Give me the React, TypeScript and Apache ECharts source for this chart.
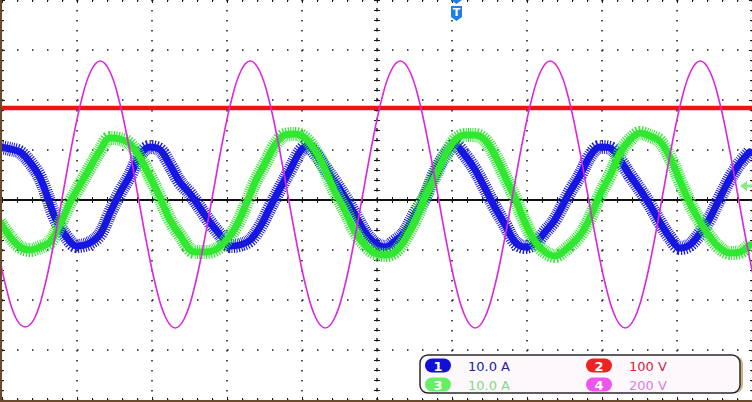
import React, { useEffect, useRef } from "react";
import * as echarts from "echarts";

// Time axis in ms (10 ms/div), screen centre = 0 ms. Values in divisions.
const ch1Time = [-50.3, -48.9, -47.6, -46.3, -44.9, -42.9, -41.6, -40.0, -38.3, -36.9, -35.6, -34.3, -32.9, -31.6, -30.3, -28.9, -27.6, -26.3, -24.9, -22.3, -20.9, -19.6, -18.3, -16.9, -15.6, -14.3, -12.9, -11.6, -10.3, -9.3, -8.3, -6.9, -5.6, -4.3, -2.9, -1.6, -0.3, 1.1, 2.4, 3.7, 5.1, 6.4, 7.7, 9.1, 10.4, 11.7, 13.1, 14.4, 15.7, 17.1, 18.4, 19.7, 21.1, 22.4, 23.7, 25.7, 27.1, 28.4, 29.7, 31.1, 32.4, 33.7, 35.1, 36.4, 37.7, 39.1, 40.4, 41.7, 43.1, 44.4, 45.7, 47.1, 48.4, 49.7];
const ch1Div = [1.06, 1.02, 0.96, 0.76, 0.44, -0.36, -0.7, -0.92, -0.86, -0.68, -0.26, 0.14, 0.5, 0.9, 1.06, 1.0, 0.7, 0.36, 0.12, -0.44, -0.7, -0.92, -0.9, -0.8, -0.54, -0.16, 0.24, 0.6, 0.96, 1.08, 0.94, 0.64, 0.36, 0.06, -0.3, -0.64, -0.86, -0.94, -0.82, -0.64, -0.26, 0.06, 0.54, 0.9, 1.1, 0.9, 0.6, 0.24, -0.14, -0.5, -0.84, -0.94, -0.86, -0.64, -0.4, 0.16, 0.5, 0.88, 1.06, 1.04, 0.8, 0.5, 0.2, -0.1, -0.44, -0.76, -0.96, -0.9, -0.66, -0.36, 0.04, 0.44, 0.74, 0.96];

const ch3Time = [-50.3, -48.9, -47.6, -46.3, -44.9, -43.6, -42.3, -40.9, -39.6, -38.3, -36.9, -35.6, -34.3, -32.9, -31.6, -30.3, -28.9, -27.6, -26.3, -24.3, -22.9, -21.6, -20.3, -18.9, -17.6, -16.3, -14.9, -13.6, -12.3, -10.9, -9.6, -8.3, -6.9, -5.6, -4.3, -2.9, -1.6, -0.3, 1.1, 2.4, 3.7, 5.1, 6.4, 7.7, 9.1, 10.4, 11.7, 13.1, 14.4, 15.7, 17.1, 18.4, 19.7, 21.1, 22.4, 23.7, 25.1, 27.1, 28.4, 29.7, 31.1, 32.4, 33.7, 35.1, 36.4, 37.7, 39.1, 40.4, 41.7, 43.1, 44.4, 45.7, 47.1, 48.4, 49.7];
const ch3Div = [-0.44, -0.74, -0.94, -1.0, -0.94, -0.84, -0.5, -0.04, 0.3, 0.64, 1.0, 1.24, 1.22, 1.12, 0.84, 0.48, 0.04, -0.4, -0.7, -1.04, -1.04, -1.0, -0.84, -0.56, -0.14, 0.34, 0.74, 1.1, 1.3, 1.32, 1.24, 1.0, 0.6, 0.16, -0.2, -0.64, -0.9, -1.06, -1.1, -1.04, -0.8, -0.4, 0.06, 0.46, 0.9, 1.2, 1.3, 1.3, 1.2, 0.9, 0.46, 0.04, -0.44, -0.84, -1.04, -1.12, -1.0, -0.7, -0.36, 0.1, 0.5, 0.94, 1.2, 1.34, 1.28, 1.18, 0.84, 0.38, -0.06, -0.44, -0.74, -0.96, -1.06, -1.04, -0.9];

const ch2Time = [-51, -40, -30, -20, -10, 0, 10, 20, 30, 40, 51];
const ch2Div = [1.84, 1.84, 1.84, 1.84, 1.84, 1.84, 1.84, 1.84, 1.84, 1.84, 1.84];

const ch4Time = [-51.9, -50.65, -49.4, -48.15, -46.9, -45.65, -44.4, -43.15, -41.9, -40.65, -39.4, -38.15, -36.9, -35.65, -34.4, -33.15, -31.9, -30.65, -29.4, -28.15, -26.9, -25.65, -24.4, -23.15, -21.9, -20.65, -19.4, -18.15, -16.9, -15.65, -14.4, -13.15, -11.9, -10.65, -9.4, -8.15, -6.9, -5.65, -4.4, -3.15, -1.9, -0.65, 0.6, 1.85, 3.1, 4.35, 5.6, 6.85, 8.1, 9.35, 10.6, 11.85, 13.1, 14.35, 15.6, 16.85, 18.1, 19.35, 20.6, 21.85, 23.1, 24.35, 25.6, 26.85, 28.1, 29.35, 30.6, 31.85, 33.1, 34.35, 35.6, 36.85, 38.1, 39.35, 40.6, 41.85, 43.1, 44.35, 45.6, 46.85, 48.1, 49.35, 50.6, 51.85, 53.1];
const ch4Div = [
  0.11, -0.91, -1.78, -2.36, -2.54, -2.36, -1.78, -0.91, 0.11, 1.13, 2.0, 2.58, 2.78, 2.58, 2.0, 1.13,
  0.11, -0.91, -1.78, -2.36, -2.56, -2.36, -1.78, -0.91, 0.11, 1.13, 2.0, 2.58, 2.78, 2.58, 2.0, 1.13,
  0.11, -0.91, -1.78, -2.36, -2.56, -2.36, -1.78, -0.91, 0.11, 1.13, 2.0, 2.58, 2.78, 2.58, 2.0, 1.13,
  0.11, -0.91, -1.78, -2.36, -2.56, -2.36, -1.78, -0.91, 0.11, 1.13, 2.0, 2.58, 2.78, 2.58, 2.0, 1.13,
  0.11, -0.91, -1.78, -2.36, -2.56, -2.36, -1.78, -0.91, 0.11, 1.13, 2.0, 2.58, 2.78, 2.58, 2.0, 1.13,
  0.11, -0.91, -1.78, -2.36, -2.56,
];

const channelNumbers = ["1", "2", "3", "4"];
const channelScales = ["10.0 A", "100 V", "10.0 A", "200 V"];
const channelColors = ["#1616e2", "#ee1414", "#30e830", "#dc28dc"];
const badgeColors = ["#1010d8", "#ee2222", "#66ee66", "#ee55ee"];
const scaleTextColors = ["#22229a", "#d42440", "#86d886", "#e07ce0"];

const X_MIN = -50, X_MAX = 50, X_INT = 10;
const Y_MIN = -4, Y_MAX = 4, Y_INT = 1;

function pairs(t: number[], v: number[]) {
  return t.map((x, i) => [x, v[i]]);
}

export default function App() {
  const ref = useRef<HTMLDivElement>(null);
  useEffect(() => {
    const chart = echarts.init(ref.current!, null, { renderer: "svg" });
    const ink = "#1a1a1a";
    const tickStyle = { color: ink, width: 1 };

    const xBase = { type: "value", min: X_MIN, max: X_MAX, interval: X_INT, axisLabel: { show: false } };
    const yBase = { type: "value", min: Y_MIN, max: Y_MAX, interval: Y_INT, axisLabel: { show: false } };

    const xAxis: any[] = [
      {
        ...xBase, position: "bottom",
        axisLine: { show: true, onZero: true, onZeroAxisIndex: 0, lineStyle: { color: "#000", width: 1.5 } },
        axisTick: { show: true, inside: true, length: 3, lineStyle: tickStyle },
        minorTick: { show: true, splitNumber: 5, length: 3, lineStyle: tickStyle },
        splitLine: { show: true, lineStyle: { color: ink, width: 1.5, type: [1.5, 8.5] } },
      },
      {
        ...xBase, position: "bottom",
        axisLine: { show: true, onZero: true, onZeroAxisIndex: 0, lineStyle: { color: "#000", width: 1.5 } },
        axisTick: { show: true, inside: false, length: 3, lineStyle: tickStyle },
        minorTick: { show: true, splitNumber: 5, length: 3, lineStyle: tickStyle },
        splitLine: { show: false },
      },
      {
        ...xBase, position: "top",
        axisLine: { show: false, onZero: false },
        axisTick: { show: true, inside: true, length: 3, lineStyle: tickStyle },
        minorTick: { show: true, splitNumber: 5, length: 2, lineStyle: tickStyle },
        splitLine: { show: false },
      },
      {
        ...xBase, position: "bottom",
        axisLine: { show: false, onZero: false },
        axisTick: { show: true, inside: true, length: 3, lineStyle: tickStyle },
        minorTick: { show: true, splitNumber: 5, length: 2, lineStyle: tickStyle },
        splitLine: { show: false },
      },
    ];
    const yAxis: any[] = [
      {
        ...yBase, position: "left",
        axisLine: { show: true, onZero: true, onZeroAxisIndex: 0, lineStyle: { color: ink, width: 1.5, type: [1.5, 8.5] } },
        axisTick: { show: true, inside: true, length: 3, lineStyle: tickStyle },
        minorTick: { show: true, splitNumber: 5, length: 3, lineStyle: tickStyle },
        splitLine: { show: true, lineStyle: { color: ink, width: 1.5, type: [1.5, 13.5] } },
      },
      {
        ...yBase, position: "left",
        axisLine: { show: false, onZero: true, onZeroAxisIndex: 0 },
        axisTick: { show: true, inside: false, length: 3, lineStyle: tickStyle },
        minorTick: { show: true, splitNumber: 5, length: 3, lineStyle: tickStyle },
        splitLine: { show: false },
      },
      {
        ...yBase, position: "left",
        axisLine: { show: false, onZero: false },
        axisTick: { show: true, inside: true, length: 3, lineStyle: tickStyle },
        minorTick: { show: true, splitNumber: 5, length: 2, lineStyle: tickStyle },
        splitLine: { show: false },
      },
      {
        ...yBase, position: "right",
        axisLine: { show: false, onZero: false },
        axisTick: { show: true, inside: true, length: 3, lineStyle: tickStyle },
        minorTick: { show: true, splitNumber: 5, length: 2, lineStyle: tickStyle },
        splitLine: { show: false },
      },
    ];

    const trace = (name: string, t: number[], v: number[], color: string, width: number, z: number, smooth: number, dash?: number[]) => ({
      type: "line", name, data: pairs(t, v), xAxisIndex: 0, yAxisIndex: 0,
      showSymbol: false, symbol: "none", smooth, z, silent: true,
      lineStyle: { color, width, join: "round", cap: dash ? "butt" : "round", type: dash || "solid" },
    });

    const legendGraphics: any[] = [];
    const rowsY = [358.5, 377.5];
    const colsX = [425, 586];
    channelNumbers.forEach((num, i) => {
      const row = i < 2 ? 0 : 1;
      const col = i % 2;
      const bx = colsX[col];
      const by = rowsY[row];
      legendGraphics.push({
        type: "rect", shape: { x: bx, y: by, width: 26, height: 14, r: 7 }, z: 102,
        style: { fill: badgeColors[i] },
      });
      legendGraphics.push({
        type: "text", x: bx + 13, y: by + 7.5, z: 103,
        style: { text: num, fill: "#fff", font: "bold 13px 'DejaVu Sans'", align: "center", verticalAlign: "middle" },
      });
      legendGraphics.push({
        type: "text", x: bx + 43, y: by + 7.5, z: 103,
        style: { text: channelScales[i], fill: scaleTextColors[i], font: "13px 'DejaVu Sans'", align: "left", verticalAlign: "middle" },
      });
    });

    chart.setOption({
      animation: false,
      backgroundColor: "#ffffff",
      grid: { left: 2, top: 0, width: 750, height: 400, containLabel: false },
      xAxis,
      yAxis,
      series: [
        trace("CH1 ripple", ch1Time, ch1Div, channelColors[0], 14, 3, 0.35, [1, 1.2]),
        trace("CH1", ch1Time, ch1Div, channelColors[0], 7, 3, 0.35),
        trace("CH3 ripple", ch3Time, ch3Div, channelColors[2], 14, 4, 0.35, [1, 1.2]),
        trace("CH3", ch3Time, ch3Div, channelColors[2], 7, 4, 0.35),
        trace("CH2", ch2Time, ch2Div, channelColors[1], 4.5, 5, 0),
        trace("CH4", ch4Time, ch4Div, channelColors[3], 1.6, 6, 0.4),
      ],
      graphic: [
        { type: "rect", shape: { x: 0, y: 0, width: 2, height: 402 }, style: { fill: "#6b4a2b" }, z: 100 },
        { type: "rect", shape: { x: 0, y: 400, width: 752, height: 2 }, style: { fill: "#6b4a2b" }, z: 100 },
        { type: "polygon", shape: { points: [[451, 0], [462, 0], [456.5, 4]] }, style: { fill: "#1f7fe6" }, z: 100 },
        { type: "polygon", shape: { points: [[451, 6], [462, 6], [462, 17], [456.5, 21], [451, 17]] }, style: { fill: "#1f7fe6" }, z: 100 },
        { type: "text", x: 456.5, y: 12.5, z: 101, style: { text: "T", fill: "#fff", font: "bold 11px 'DejaVu Sans'", align: "center", verticalAlign: "middle" } },
        { type: "polygon", shape: { points: [[740, 186], [747, 181], [747, 191]] }, style: { fill: "#88e888" }, z: 100 },
        { type: "rect", shape: { x: 746, y: 184.5, width: 6, height: 3 }, style: { fill: "#88e888" }, z: 100 },
        { type: "rect", shape: { x: 423, y: 356, width: 320, height: 37, r: 8 }, style: { fill: "#c9b57e" }, z: 100 },
        { type: "rect", shape: { x: 420, y: 355, width: 320, height: 38, r: 8 }, style: { fill: "#fcf8fc", stroke: "#2a2a2a", lineWidth: 1.5 }, z: 101 },
        ...legendGraphics,
      ],
    });
    return () => chart.dispose();
  }, []);

  return (
    <div
      ref={ref}
      style={{ position: "absolute", left: 0, top: 0, width: 752, height: 402, background: "#fff" }}
    />
  );
}
